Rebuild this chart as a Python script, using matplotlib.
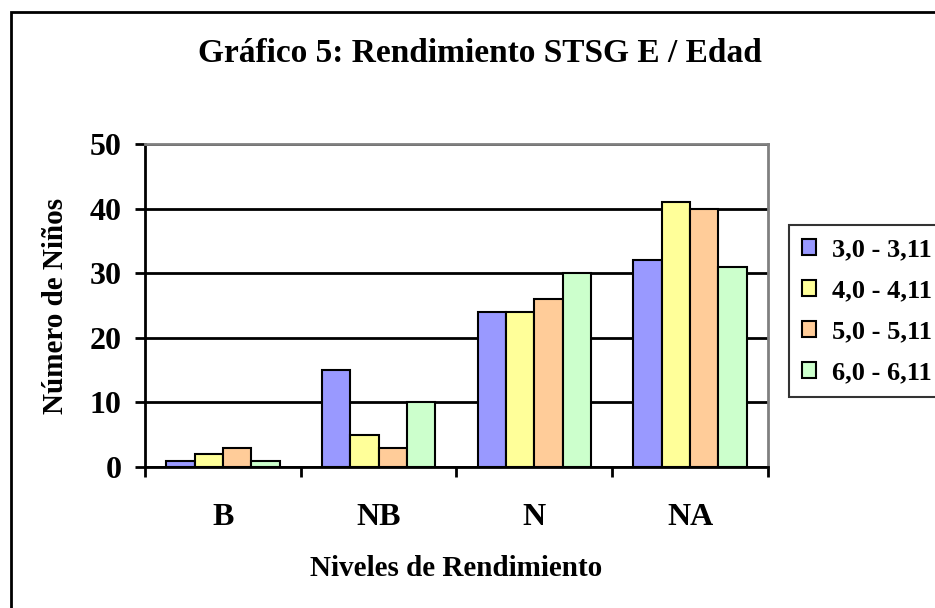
import matplotlib
matplotlib.use("Agg")
import matplotlib.pyplot as plt
import numpy as np
from matplotlib.patches import Rectangle

categorias = ["B", "NB", "N", "NA"]
edades = ["3,0 - 3,11", "4,0 - 4,11", "5,0 - 5,11", "6,0 - 6,11"]
edad_3 = [1, 15, 24, 32]
edad_4 = [2, 5, 24, 41]
edad_5 = [3, 3, 26, 40]
edad_6 = [1, 10, 30, 31]
colores = ["#9999FF", "#FFFF99", "#FFCC99", "#CCFFCC"]

plt.rcParams['font.family'] = ['Liberation Serif', 'DejaVu Serif']
plt.rcParams['font.weight'] = 'bold'

fig = plt.figure(figsize=(9.35, 6.08), dpi=100)
ax = fig.add_axes([145/935, 1-467/608, (768-145)/935, (467-144)/608])

# outer chart frame (cropped at right and bottom)
fig.add_artist(Rectangle((11/935, -0.05), 1.0, 1-12/608+0.05, transform=fig.transFigure,
                         fill=False, edgecolor='black', linewidth=2))

series = [edad_3, edad_4, edad_5, edad_6]
x = np.arange(len(categorias))
w = 1/5.5
for i, vals in enumerate(series):
    ax.bar(x - 1.5*w + i*w, vals, width=w, color=colores[i], edgecolor='black',
           linewidth=1.5, label=edades[i], zorder=3)

ax.set_xlim(-0.5, 3.5)
ax.set_ylim(0, 50)
ax.set_yticks([0, 10, 20, 30, 40, 50])
ax.set_xticks([-0.5, 0.5, 1.5, 2.5, 3.5], minor=False)
ax.set_xticklabels([])
ax.set_xticks(x, minor=True)
ax.set_xticklabels(categorias, minor=True)
ax.tick_params(axis='x', which='minor', length=0, pad=26, labelsize=23)
ax.tick_params(axis='x', which='major', direction='out', length=7, width=2)
ax.tick_params(axis='y', direction='out', length=7, width=2, labelsize=23, pad=10)
for t in ax.get_xticklabels(minor=True) + ax.get_yticklabels():
    t.set_fontweight('bold')

ax.grid(axis='y', color='black', linewidth=2, zorder=1)
ax.spines['left'].set_linewidth(2)
ax.spines['bottom'].set_linewidth(2)
ax.spines['top'].set_color('#808080')
ax.spines['right'].set_color('#808080')
ax.spines['top'].set_linewidth(2)
ax.spines['right'].set_linewidth(2)

ax.set_ylabel('Número de Niños', fontsize=21, fontweight='bold', va='center')
ax.yaxis.set_label_coords((55-145)/623, 0.5)
ax.set_xlabel('Niveles de Rendimiento', fontsize=21, fontweight='bold', va='center')
ax.xaxis.set_label_coords(0.5, (467-569)/323)
fig.text(480/935, 1-54/608, 'Gráfico 5: Rendimiento STSG E / Edad', ha='center', va='center',
         fontsize=24, fontweight='bold')

leg = ax.legend(loc='upper left', bbox_to_anchor=(789/935, 1-225/608), bbox_transform=fig.transFigure,
                fontsize=19, frameon=True, fancybox=False, edgecolor='black',
                handlelength=0.54, handleheight=0.54, handletextpad=0.6, labelspacing=0.68,
                borderpad=0.5, borderaxespad=0)
leg.get_frame().set_linewidth(1.5)
for t in leg.get_texts():
    t.set_fontweight('bold')

fig.savefig('out.png', dpi=100)
